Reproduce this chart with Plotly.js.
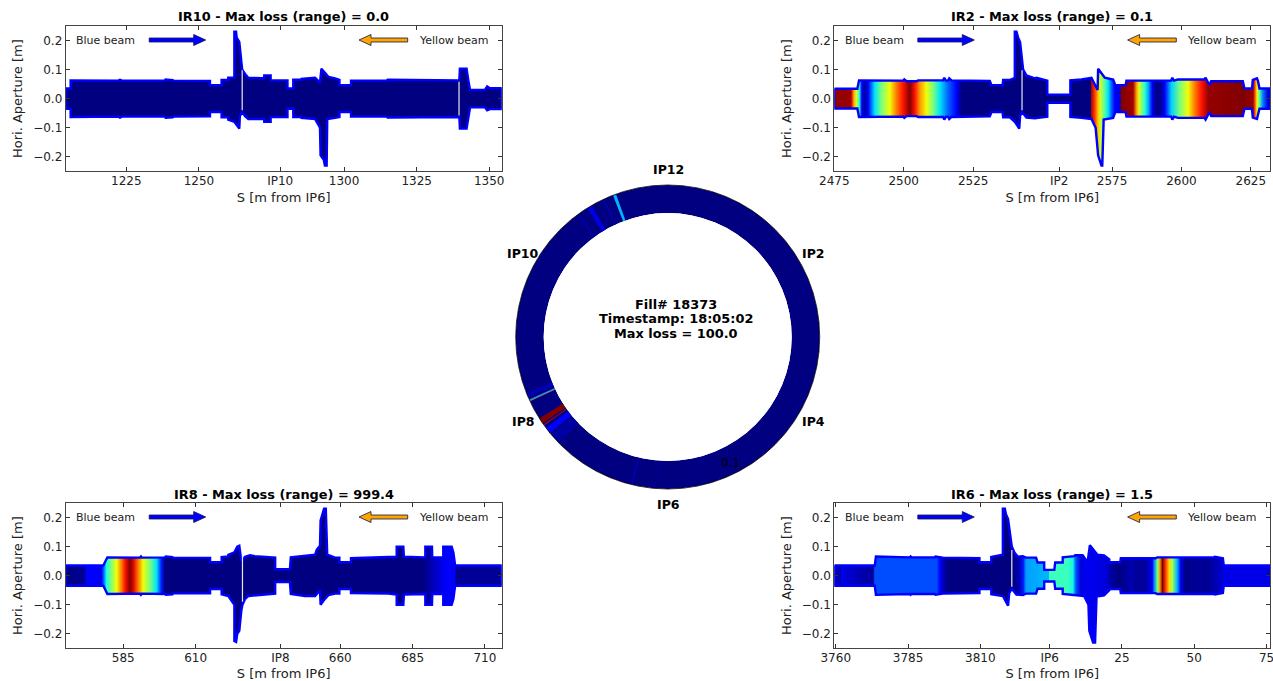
<!DOCTYPE html>
<html><head><meta charset="utf-8">
<script src="https://cdn.plot.ly/plotly-3.0.1.min.js"></script>
<style>html,body{margin:0;padding:0;background:#fff}#chart{width:1273px;height:681px}</style>
</head><body><div id="chart"></div>
<script>
// ---------- Data ----------
// Aperture edges: [S in metres, half aperture in metres], upper and lower side of the beam pipe
const IR10_UP=[[1204.1,.035],[1205.8,.035],[1205.8,.063],[1222.3,.062],[1222.8,.065],[1223.5,.062],[1238.3,.062],[1238.5,.066],[1241,.064],[1241.2,.062],[1253.8,.061],[1253.8,.046],[1257.8,.046],[1257.8,.064],[1260.1,.064],[1260.1,.072],[1262.2,.073],[1262.2,.23],[1262.8,.23],[1263,.21],[1263.9,.195],[1264.9,.1],[1265.9,.085],[1267,.072],[1272.5,.07],[1272.5,.08],[1274.7,.08],[1274.7,.063],[1280.5,.063],[1280.5,.035],[1282.5,.035],[1282.5,.065],[1285.4,.065],[1285.4,.068],[1290,.072],[1291.7,.055],[1292.2,.103],[1294.6,.075],[1296.9,.07],[1298.4,.065],[1298.4,.046],[1302.4,.046],[1302.4,.062],[1314.7,.062],[1315,.065],[1339.7,.063],[1339.9,.103],[1342.2,.103],[1342.8,.063],[1343.4,.03],[1348.5,.03],[1349.3,.042],[1350.2,.036],[1354.3,.036]];
const IR10_DN=[[1204.1,.035],[1205.8,.035],[1205.8,.063],[1222.3,.062],[1222.8,.065],[1223.5,.062],[1238.3,.062],[1238.5,.066],[1241,.064],[1241.2,.062],[1253.8,.061],[1253.8,.046],[1257.8,.046],[1257.8,.064],[1260.1,.064],[1260.1,.072],[1262.2,.08],[1263.9,.103],[1264.1,.06],[1264.9,.046],[1265.9,.06],[1267,.07],[1272.5,.07],[1272.5,.08],[1274.7,.08],[1274.7,.063],[1280.5,.063],[1280.5,.035],[1282.5,.035],[1282.5,.063],[1285.4,.063],[1285.4,.066],[1290,.07],[1291.7,.1],[1291.9,.195],[1293,.21],[1293.4,.23],[1294,.23],[1294.2,.07],[1296.9,.066],[1298.4,.063],[1298.4,.046],[1302.4,.046],[1302.4,.062],[1314.7,.062],[1315,.065],[1339.7,.063],[1339.9,.103],[1342.2,.103],[1342.8,.063],[1343.4,.03],[1348.5,.03],[1349.3,.04],[1350.2,.036],[1354.3,.036]];
const IR2_UP=[[2475,.034],[2483.3,.034],[2483.9,.063],[2499.8,.062],[2500.2,.066],[2501,.06],[2504.6,.06],[2505.2,.063],[2514.2,.063],[2514.6,.072],[2515.2,.062],[2516,.063],[2516.4,.07],[2517.2,.063],[2531,.061],[2531.6,.046],[2535.6,.046],[2535.8,.064],[2538.2,.064],[2540,.072],[2540,.23],[2540.6,.23],[2541.2,.21],[2541.9,.195],[2543,.1],[2544.2,.08],[2547.2,.07],[2547.8,.072],[2551.7,.062],[2551.7,.014],[2560,.014],[2560,.063],[2564,.066],[2567.6,.072],[2569.8,.03],[2570,.103],[2572.4,.072],[2575.4,.066],[2576.2,.046],[2579.9,.046],[2580.2,.062],[2592.8,.062],[2593.1,.064],[2596.3,.062],[2596.7,.072],[2597.3,.062],[2598.7,.066],[2608.3,.066],[2608.7,.072],[2609.2,.063],[2610.1,.046],[2610.7,.06],[2622.1,.06],[2622.7,.035],[2625.4,.035],[2625.7,.065],[2627.2,.07],[2627.6,.06],[2628.1,.035],[2632,.035]];
const IR2_DN=[[2475,.034],[2483.3,.034],[2483.9,.063],[2499.8,.062],[2500.2,.066],[2501,.06],[2504.6,.06],[2505.2,.063],[2514.2,.063],[2514.6,.072],[2515.2,.062],[2516,.063],[2516.4,.07],[2517.2,.063],[2531,.061],[2531.6,.046],[2535.6,.046],[2535.8,.064],[2538.2,.064],[2540,.08],[2541.6,.103],[2541.9,.06],[2542.6,.046],[2544.2,.065],[2547.2,.068],[2551.7,.062],[2551.7,.014],[2560,.014],[2560,.063],[2564,.066],[2567.6,.07],[2568.2,.08],[2569.1,.1],[2570,.195],[2571.2,.23],[2571.5,.23],[2572,.072],[2575.4,.066],[2576.2,.046],[2579.9,.046],[2580.2,.062],[2592.8,.062],[2593.1,.064],[2596.3,.062],[2596.7,.072],[2597.3,.062],[2598.7,.066],[2608.3,.066],[2608.7,.072],[2609.2,.063],[2610.1,.046],[2610.7,.06],[2622.1,.06],[2622.7,.035],[2625.4,.035],[2625.7,.065],[2627.2,.07],[2627.6,.06],[2628.1,.035],[2632,.035]];
const IR8_UP=[[565.1,.035],[578.1,.035],[579.5,.063],[590.8,.062],[591.1,.066],[591.4,.062],[599.4,.063],[599.7,.066],[602,.064],[602.3,.061],[615,.061],[615,.046],[619,.046],[619,.064],[621.3,.066],[621.3,.072],[623.4,.08],[624.4,.1],[625.1,.103],[625.8,.05],[627.1,.065],[628.8,.07],[630.5,.067],[637.5,.062],[637.5,.022],[642.6,.022],[642.9,.063],[646.1,.066],[651.3,.072],[651.9,.09],[653,.103],[653.2,.19],[654.4,.23],[655,.23],[655.5,.072],[658.2,.062],[659.7,.062],[659.7,.046],[663.7,.046],[663.7,.06],[676.6,.062],[679.5,.065],[679.5,.1],[681.8,.1],[682,.065],[689.4,.063],[689.4,.1],[691.7,.1],[691.8,.063],[695.6,.063],[695.6,.1],[698.5,.1],[699.1,.08],[699.7,.035],[715.8,.035]];
const IR8_DN=[[565.1,.035],[578.1,.035],[579.5,.063],[590.8,.062],[591.1,.066],[591.4,.062],[599.4,.063],[599.7,.066],[602,.064],[602.3,.061],[615,.061],[615,.046],[619,.046],[619,.064],[621.3,.07],[623.4,.1],[623.4,.225],[624,.228],[624.4,.2],[625.1,.19],[625.8,.12],[626.2,.1],[627.1,.08],[628.2,.07],[630.5,.067],[637.5,.062],[637.5,.022],[642.6,.022],[642.9,.063],[647.8,.07],[651.3,.07],[653,.05],[653.2,.1],[654.7,.08],[655.9,.067],[658.2,.062],[659.7,.062],[659.7,.046],[663.7,.046],[663.7,.06],[676.6,.062],[679.5,.065],[679.5,.1],[681.8,.1],[682,.065],[689.4,.063],[689.4,.1],[691.7,.1],[691.8,.063],[695.6,.063],[695.6,.1],[698.5,.1],[699.1,.08],[699.7,.035],[715.8,.035]];
const IR6_UP=[[3759.5,.035],[3773.5,.035],[3773.9,.066],[3785.6,.063],[3785.9,.066],[3786.2,.063],[3794.2,.063],[3794.5,.066],[3797.1,.062],[3809.7,.06],[3809.7,.046],[3813.8,.046],[3813.8,.064],[3817.2,.07],[3817.8,.072],[3817.8,.23],[3818.5,.23],[3818.9,.21],[3819.6,.195],[3820.9,.1],[3821.8,.08],[3823,.065],[3824.7,.067],[3825.8,.062],[3829.3,.062],[3829.8,.045],[3832.1,.045],[3832.1,.02],[3835.6,.02],[3835.9,.045],[3838.5,.045],[3838.5,.063],[3842.5,.067],[3842.8,.07],[3845.4,.07],[3847.1,.046],[3847.9,.105],[3850.5,.072],[3852.8,.07],[3854.6,.056],[3854.6,.046],[3858.4,.046],[3858.6,.06],[3870.6,.06],[3871.2,.063],[3890.8,.063],[3891.1,.065],[3893.9,.06],[3894.2,.035],[3910.3,.035]];
const IR6_DN=[[3759.5,.035],[3773.5,.035],[3773.9,.066],[3785.6,.063],[3785.9,.066],[3786.2,.063],[3794.2,.063],[3794.5,.066],[3797.1,.062],[3809.7,.06],[3809.7,.046],[3813.8,.046],[3813.8,.064],[3817.8,.07],[3818.5,.085],[3819.6,.103],[3820,.06],[3820.9,.045],[3822.5,.065],[3824.7,.067],[3825.8,.062],[3829.3,.062],[3829.8,.045],[3832.1,.045],[3832.1,.02],[3835.6,.02],[3835.9,.045],[3838.5,.045],[3838.5,.063],[3842.5,.067],[3845.9,.07],[3847.4,.1],[3847.7,.19],[3849,.23],[3849.7,.23],[3850.2,.072],[3852.8,.068],[3854.6,.05],[3854.6,.046],[3858.4,.046],[3858.6,.06],[3870.6,.06],[3871.2,.063],[3890.8,.063],[3891.1,.065],[3893.9,.06],[3894.2,.035],[3910.3,.035]];

// Normalised loss along S: [S in metres, loss 0..1]
const IR10_LOSS=[[1204.1,0],[1354.3,0]];
const IR2_LOSS=[[2475,.98],[2480.9,.98],[2481.3,.9],[2482.1,.72],[2483,.6],[2484,.4],[2484.9,.1],[2486,.03],[2487.2,.11],[2489.6,.35],[2492,.5],[2495,.64],[2497.4,.78],[2499.8,.89],[2502.2,1],[2504,.89],[2505.8,.75],[2508.2,.64],[2510.6,.5],[2513,.35],[2516,.22],[2519,.11],[2520.8,0],[2567.5,0],[2567.6,.95],[2568.8,.85],[2570,.7],[2570.8,.6],[2572.4,.45],[2573.6,.35],[2574.8,.22],[2576,.11],[2578,.08],[2578.2,1],[2582.6,.97],[2583.8,.75],[2584.7,.62],[2586.8,.4],[2588,.3],[2589.5,.1],[2591,0],[2592.8,.03],[2594,.12],[2596.4,.33],[2599.4,.5],[2602.4,.64],[2604.8,.78],[2607.2,.89],[2609.6,.98],[2622.2,1],[2625.8,.98],[2626.4,.85],[2627.2,.65],[2628.1,.45],[2629.3,.25],[2631.1,.08],[2632,.05]];
const IR8_LOSS=[[565.1,0],[571.9,.02],[572,.11],[577.5,.12],[578.1,.2],[578.7,.3],[579.2,.38],[581,.52],[582.7,.64],[584.4,.78],[585.6,.89],[587.3,1],[588.4,.92],[590.2,.78],[591.9,.64],[594.2,.5],[596.5,.35],[598.2,.15],[599.4,0],[688.7,0],[692.1,.05],[696.7,.11],[699.6,.11],[699.9,.02],[715.8,.02]];
const IR6_LOSS=[[3759.5,.05],[3761.7,.05],[3762,.09],[3764.5,.07],[3769,.04],[3773,.03],[3773.5,.2],[3794.8,.2],[3796,.11],[3797.7,.03],[3798.8,0],[3821.2,0],[3823.5,.05],[3824.9,.15],[3825.8,.28],[3831.6,.3],[3833.7,.3],[3833.9,.42],[3840.2,.42],[3842,.37],[3843.1,.2],[3844.8,.08],[3847.1,.1],[3853.4,.08],[3855.2,.03],[3858,0],[3862,.04],[3864.4,.02],[3867.2,.03],[3869.5,.1],[3870.1,.25],[3871.3,.5],[3872.1,.75],[3873,1],[3874.1,.85],[3875.3,.68],[3876.4,.55],[3878.1,.3],[3879.3,.1],[3881,0],[3883.3,.02],[3889.1,.02],[3893.7,.07],[3894.3,.09],[3909.2,.09],[3910.3,.02]];

// White gaps in the aperture: [S, top, bottom]
const IR10_GAPS=[[1264.9,.098,-.04],[1339.6,.058,-.058]];
const IR2_GAPS=[[2542.6,.098,-.04]];
const IR8_GAPS=[[626.2,.07,-.09]];
const IR6_GAPS=[[3820.9,.088,-.038]];

// Axis ticks
const IR10_TICKS=[1225,1250,1278,1300,1325,1350], IR10_LABELS=['1225','1250','IP10','1300','1325','1350'], IR10_RANGE=[1204.1,1354.3];
const IR2_TICKS=[2475,2500,2525,2556,2575,2600,2625], IR2_LABELS=['2475','2500','2525','IP2','2575','2600','2625'], IR2_RANGE=[2475,2632];
const IR8_TICKS=[585,610,639.3,660,685,710], IR8_LABELS=['585','610','IP8','660','685','710'], IR8_RANGE=[565.1,715.8];
const IR6_TICKS=[3760,3785,3810,3834,3859,3884,3909], IR6_LABELS=['3760','3785','3810','IP6','25','50','75'], IR6_RANGE=[3759.5,3910.3];
const Y_TICKS=[-.2,-.1,0,.1,.2];

// Ring: centre angle, width (degrees), loss 0..1
const RING_THETA=[323.8,329,335,339.5,247.6,245.4,245.1,236.5,234.6,232,228,193.7,184.8,166.3];
const RING_WIDTH=[.6,1.8,.5,1.2,2,.6,.2,2.2,.4,2.4,4,.5,.3,.3];
const RING_LOSS=[.05,.09,.06,.3,.04,.28,.8,1,.95,.12,.03,.06,.03,.02];
const IP_NAMES=['IP12','IP2','IP4','IP6','IP8','IP10'];
const IP_POS=[[668,169],[813,253],[813,421],[668,504],[523,421],[523,253]];

// ---------- Helpers ----------
const W=1273,H=681, FONT='DejaVu Sans';
const px=x=>x/W, py=y=>1-y/H;
const JET_STOPS={r:[[0,0],[.35,0],[.66,1],[.89,1],[1,.5]],g:[[0,0],[.125,0],[.375,1],[.64,1],[.91,0],[1,0]],b:[[0,.5],[.11,1],[.34,1],[.65,0],[1,0]]};
function chan(s,v){for(let i=1;i<s.length;i++){if(v<=s[i][0]){const t=(v-s[i-1][0])/(s[i][0]-s[i-1][0]);return s[i-1][1]+t*(s[i][1]-s[i-1][1]);}}return s[s.length-1][1];}
function jet(v){return 'rgb('+['r','g','b'].map(k=>Math.round(255*chan(JET_STOPS[k],v))).join(',')+')';}

const PANELS=[
 {id:'',  name:'IR10',val:'0.0',  up:IR10_UP,dn:IR10_DN,loss:IR10_LOSS,gaps:IR10_GAPS,ticks:IR10_TICKS,labels:IR10_LABELS,range:IR10_RANGE,l:65.7,t:26},
 {id:'2', name:'IR2', val:'0.1',  up:IR2_UP, dn:IR2_DN, loss:IR2_LOSS, gaps:IR2_GAPS, ticks:IR2_TICKS, labels:IR2_LABELS, range:IR2_RANGE, l:834.3,t:26},
 {id:'3', name:'IR8', val:'999.4',up:IR8_UP, dn:IR8_DN, loss:IR8_LOSS, gaps:IR8_GAPS, ticks:IR8_TICKS, labels:IR8_LABELS, range:IR8_RANGE, l:65.7,t:503},
 {id:'4', name:'IR6', val:'1.5',  up:IR6_UP, dn:IR6_DN, loss:IR6_LOSS, gaps:IR6_GAPS, ticks:IR6_TICKS, labels:IR6_LABELS, range:IR6_RANGE, l:834.3,t:503}
];
const PW=436, PH=145.3;
const traces=[], shapes=[], annotations=[];
const layout={width:W,height:H,margin:{l:0,r:0,t:0,b:0},paper_bgcolor:'#fff',plot_bgcolor:'#fff',showlegend:false,font:{family:FONT,size:12,color:'#222'},hovermode:false};

function arrow(x0,x1,y,fill){ // horizontal block arrow in page pixels, tip at x1
  const d=x1>x0?1:-1, hx=x1-d*12;
  const pts=[[x0,y-2],[hx,y-2],[hx,y-5.5],[x1,y],[hx,y+5.5],[hx,y+2],[x0,y+2]];
  return {type:'path',xref:'paper',yref:'paper',layer:'above',fillcolor:fill,line:{color:'#11114a',width:.8},
    path:'M'+pts.map(p=>px(p[0])+','+py(p[1])).join('L')+'Z'};
}

PANELS.forEach(p=>{
  const xa='xaxis'+p.id, ya='yaxis'+p.id, xr='x'+p.id, yr='y'+p.id;
  const axis={showline:true,mirror:'allticks',linecolor:'#444',linewidth:1,ticks:'inside',ticklen:4,tickcolor:'#333',showgrid:false,zeroline:false,ticklabeloverflow:'allow',tickfont:{family:FONT,size:12,color:'#222'}};
  layout[xa]=Object.assign({},axis,{domain:[px(p.l),px(p.l+PW)],range:p.range,anchor:yr,tickmode:'array',tickvals:p.ticks,ticktext:p.labels,ticklabelstandoff:-2,
    title:{text:'S [m from IP6]',font:{family:FONT,size:13,color:'#222'},standoff:6}});
  layout[ya]=Object.assign({},axis,{domain:[py(p.t+PH),py(p.t)],range:[-.25,.25],anchor:xr,tickmode:'array',tickvals:Y_TICKS,tickformat:'.1f',
    title:{text:'Hori. Aperture [m]',font:{family:FONT,size:13,color:'#222'},standoff:7}});
  const s0=p.loss[0][0], s1=p.loss[p.loss.length-1][0];
  const xs=p.up.map(a=>a[0]).concat(p.dn.map(a=>a[0]).reverse());
  const ys=p.up.map(a=>a[1]).concat(p.dn.map(a=>-a[1]).reverse());
  xs.push(xs[0]); ys.push(ys[0]);
  traces.push({type:'scatter',mode:'lines',x:xs,y:ys,xaxis:xr,yaxis:yr,fill:'toself',cliponaxis:true,
    line:{color:'#0000ff',width:2.4,shape:'linear'},
    fillgradient:{type:'horizontal',start:s0,stop:s1,colorscale:p.loss.map(k=>[(k[0]-s0)/(s1-s0),jet(k[1])])},name:p.name});
  p.gaps.forEach(g=>traces.push({type:'scatter',mode:'lines',x:[g[0],g[0]],y:[g[1],g[2]],xaxis:xr,yaxis:yr,line:{color:'#e8e8ee',width:1.2}}));
  annotations.push({xref:'paper',yref:'paper',x:px(p.l+PW/2),y:py(p.t-9),xanchor:'center',yanchor:'middle',showarrow:false,
    text:'<b>'+p.name+' - Max loss (range) = '+p.val+'</b>',font:{family:FONT,size:12.9,color:'#000'}});
  annotations.push({xref:'paper',yref:'paper',x:px(p.l+8.3),y:py(p.t+14),xanchor:'left',yanchor:'middle',showarrow:false,text:'Blue beam',font:{family:FONT,size:11,color:'#222'}});
  annotations.push({xref:'paper',yref:'paper',x:px(p.l+425),y:py(p.t+14),xanchor:'right',yanchor:'middle',showarrow:false,text:'Yellow beam',font:{family:FONT,size:11,color:'#222'}});
  shapes.push(arrow(p.l+83.5,p.l+140,p.t+14,'#0000ff'));
  shapes.push(arrow(p.l+342,p.l+293.3,p.t+14,'#ffa500'));
});

// Ring
const cx=667.7, cy=337, R=152;
layout.polar={domain:{x:[px(cx-R),px(cx+R)],y:[py(cy+R),py(cy-R)]},hole:124/152,bgcolor:'#fff',barmode:'overlay',
  radialaxis:{visible:false,range:[0,1]},
  angularaxis:{direction:'clockwise',rotation:90,showline:false,ticks:'',showticklabels:false,showgrid:false}};
traces.push({type:'barpolar',subplot:'polar',theta:[180],r:[1],width:[360],marker:{color:jet(0),line:{width:0}}});
traces.push({type:'barpolar',subplot:'polar',theta:RING_THETA,r:RING_THETA.map(()=>1),width:RING_WIDTH,marker:{color:RING_LOSS.map(jet),line:{width:0}}});
shapes.push({type:'circle',xref:'paper',yref:'paper',layer:'above',x0:px(cx-R),x1:px(cx+R),y0:py(cy+R),y1:py(cy-R),line:{color:'#000',width:.8},fillcolor:'rgba(0,0,0,0)'});

IP_NAMES.forEach((n,i)=>annotations.push({xref:'paper',yref:'paper',x:px(IP_POS[i][0]),y:py(IP_POS[i][1]),xanchor:'center',yanchor:'middle',showarrow:false,text:'<b>'+n+'</b>',font:{family:FONT,size:12.5,color:'#000'}}));
[['Fill# 18373',304],['Timestamp: 18:05:02',318.5],['Max loss = 100.0',333]].forEach(a=>annotations.push({xref:'paper',yref:'paper',x:px(cx+8.5),y:py(a[1]),xanchor:'center',yanchor:'middle',showarrow:false,text:'<b>'+a[0]+'</b>',font:{family:FONT,size:12.9,color:'#000'}}));
annotations.push({xref:'paper',yref:'paper',x:px(730.5),y:py(463),xanchor:'center',yanchor:'middle',showarrow:false,text:'0.1',font:{family:FONT,size:12,color:'#000'}});

layout.shapes=shapes; layout.annotations=annotations;
Plotly.newPlot('chart',traces,layout,{displayModeBar:false,staticPlot:true});
</script></body></html>
